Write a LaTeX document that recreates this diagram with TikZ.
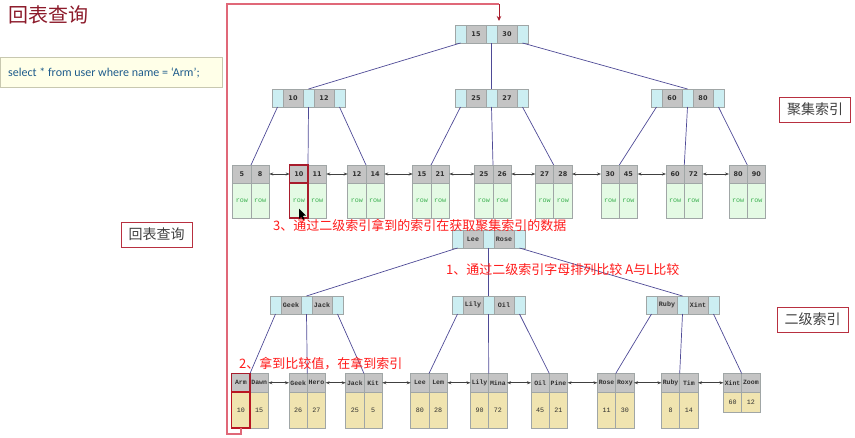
\documentclass[tikz,border=0pt]{standalone}
\usepackage{fontspec}
\setmainfont{Liberation Sans}
\newfontfamily\cjk{Noto Sans CJK SC}
\newfontfamily\monof{Liberation Mono}
\newfontfamily\numf{DejaVu Sans}
\newfontfamily\sqlf{Carlito}
\usetikzlibrary{arrows.meta}
\definecolor{cyanc}{HTML}{CCEEF2}
\definecolor{grayc}{HTML}{C4C4C4}
\definecolor{bordc}{HTML}{A0A6A6}
\definecolor{greenb}{HTML}{E4FAE4}
\definecolor{khaki}{HTML}{F0E4B0}
\definecolor{linkc}{HTML}{4E4A96}
\definecolor{redl}{HTML}{E06878}
\definecolor{darkred}{HTML}{A81C2C}
\definecolor{titlec}{HTML}{8C1A2A}
\definecolor{rowc}{HTML}{3CB050}
\definecolor{sqlc}{HTML}{1F5C8C}
\definecolor{labred}{HTML}{FF1A1A}
\definecolor{labbord}{HTML}{B83040}
\definecolor{labtext}{HTML}{404040}
\definecolor{sqlfill}{HTML}{FFFFE8}
\definecolor{sqlbord}{HTML}{C8C8B0}
\definecolor{txtc}{HTML}{303030}
\tikzset{
  cell/.style={draw=bordc, line width=0.6pt, inner sep=0pt, outer sep=0pt, anchor=north west, text=txtc},
  ptr/.style={cell, fill=cyanc, minimum width=11pt, minimum height=18pt},
  keyn/.style={cell, fill=grayc, minimum width=20pt, minimum height=18pt, font=\numf\bfseries\fontsize{6.5}{7}\selectfont},
  keym/.style={cell, fill=grayc, minimum width=20pt, minimum height=18pt, font=\monof\bfseries\fontsize{6.7}{7}\selectfont},
  lheadn/.style={cell, fill=grayc, minimum width=18.3pt, minimum height=18pt, font=\numf\bfseries\fontsize{6.5}{7}\selectfont},
  lheadm/.style={cell, fill=grayc, minimum width=18.3pt, minimum height=18.5pt, font=\monof\bfseries\fontsize{6.5}{7}\selectfont},
  gbody/.style={cell, fill=greenb, minimum width=18.3pt, minimum height=35pt, text=rowc, font=\monof\fontsize{6.7}{7}\selectfont},
  kbody/.style={cell, fill=khaki, minimum width=18.3pt, font=\monof\fontsize{6.7}{7}\selectfont},
  link/.style={draw=linkc, line width=0.7pt},
  larr/.style={draw=black!75, line width=0.6pt, {Stealth[length=4pt,width=3pt]}-{Stealth[length=4pt,width=3pt]}},
  hl/.style={draw=darkred, line width=1.3pt},
  redpath/.style={draw=redl, line width=1.6pt},
  labbox/.style={draw=labbord, fill=white, line width=0.9pt, minimum width=71pt, minimum height=25pt, inner sep=0pt, text=labtext, font=\cjk\fontsize{14}{16}\selectfont},
  redtxt/.style={text=labred, anchor=west, inner sep=0pt, font=\cjk\fontsize{13}{15}\selectfont}
}
\newcommand\inode[6]{%
  \node[ptr] (#2p1) at (#3,#4) {};
  \node[#1] (#2k1) at (#2p1.north east) {#5};
  \node[ptr] (#2p2) at (#2k1.north east) {};
  \node[#1] (#2k2) at (#2p2.north east) {#6};
  \node[ptr] (#2p3) at (#2k2.north east) {};
}
\newcommand\cleaf[4]{%
  \node[lheadn, anchor=north east] (#1a) at (#2,165) {#3};
  \node[lheadn, anchor=north west] (#1b) at (#2,165) {#4};
  \node[gbody, anchor=north] (#1c) at (#1a.south) {row};
  \node[gbody, anchor=north] (#1d) at (#1b.south) {row};
}
\newcommand\sleaf[7]{%
  \node[lheadm, anchor=north east] (#1a) at (#2,373.5) {#3};
  \node[lheadm, anchor=north west] (#1b) at (#2,373.5) {#4};
  \node[kbody, minimum height=#7pt, anchor=north] (#1c) at (#1a.south) {#5};
  \node[kbody, minimum height=#7pt, anchor=north] (#1d) at (#1b.south) {#6};
}
\begin{document}
\begin{tikzpicture}[x=1pt,y=-1pt]
\useasboundingbox (0,0) rectangle (855,437);
% title and sql
\node[anchor=west, inner sep=0pt, text=titlec, font=\cjk\fontsize{20}{22}\selectfont] (title) at (8,15) {回表查询};
\node[draw=sqlbord, fill=sqlfill, anchor=north west, minimum width=222pt, minimum height=30pt, inner sep=0pt, line width=0.6pt] (sqlbox) at (0,57) {};
\node[anchor=west, inner sep=0pt, text=sqlc, font=\sqlf\fontsize{12}{14}\selectfont] (sql) at (8,72.5) {select * from user where name = ‘Arm’;};
% clustered index internal nodes
\inode{keyn}{r}{455}{25}{15}{30}
\inode{keyn}{a}{272}{89}{10}{12}
\inode{keyn}{b}{455}{89}{25}{27}
\inode{keyn}{c}{651}{89}{60}{80}
% clustered leaves
\cleaf{ca}{251}{5}{8}
\cleaf{cb}{308}{10}{11}
\cleaf{cc}{366}{12}{14}
\cleaf{cd}{431}{15}{21}
\cleaf{ce}{493}{25}{26}
\cleaf{cf}{553.7}{27}{28}
\cleaf{cg}{619.3}{30}{45}
\cleaf{ch}{684.3}{60}{72}
\cleaf{ci}{747.3}{80}{90}
% clustered links
\draw[link] (rp1.south) -- (ap2.north);
\draw[link] (rp2.south) -- (bp2.north);
\draw[link] (rp3.south) -- (cp2.north);
\draw[link] (ap1.south) -- (caa.north east);
\draw[link] (ap2.south) -- (cba.north east);
\draw[link] (ap3.south) -- (cca.north east);
\draw[link] (bp1.south) -- (cda.north east);
\draw[link] (bp2.south) -- (cea.north east);
\draw[link] (bp3.south) -- (cfa.north east);
\draw[link] (cp1.south) -- (cga.north east);
\draw[link] (cp2.south) -- (cha.north east);
\draw[link] (cp3.south) -- (cia.north east);
\foreach \p/\q in {ca/cb,cb/cc,cc/cd,cd/ce,ce/cf,cf/cg,cg/ch,ch/ci}{
  \draw[larr] (\p b.east) -- (\q a.west);
}
% secondary index internal nodes
\inode{keym}{sr}{452}{230}{Lee}{Rose}
\inode{keym}{sa}{270}{296}{Geek}{Jack}
\inode{keym}{sb}{452}{296}{Lily}{Oil}
\inode{keym}{sc}{646}{296}{Ruby}{Xint}
% secondary leaves
\sleaf{sa1}{250}{Arm}{Dawn}{10}{15}{36}
\sleaf{sa2}{307.3}{Geek}{Hero}{26}{27}{36}
\sleaf{sa3}{364}{Jack}{Kit}{25}{5}{36}
\sleaf{sb1}{429}{Lee}{Lem}{80}{28}{36}
\sleaf{sb2}{488.7}{Lily}{Mina}{90}{72}{36}
\sleaf{sb3}{549.3}{Oil}{Pine}{45}{21}{36}
\sleaf{sc1}{615.7}{Rose}{Roxy}{11}{30}{36}
\sleaf{sc2}{679.7}{Ruby}{Tim}{8}{14}{36}
\sleaf{sc3}{741.7}{Xint}{Zoom}{60}{12}{20.5}
% secondary links
\draw[link] (srp1.south) -- (sap2.north);
\draw[link] (srp2.south) -- (sbp2.north);
\draw[link] (srp3.south) -- (scp2.north);
\draw[link] (sap1.south) -- (sa1a.north east);
\draw[link] (sap2.south) -- (sa2a.north east);
\draw[link] (sap3.south) -- (sa3a.north east);
\draw[link] (sbp1.south) -- (sb1a.north east);
\draw[link] (sbp2.south) -- (sb2a.north east);
\draw[link] (sbp3.south) -- (sb3a.north east);
\draw[link] (scp1.south) -- (sc1a.north east);
\draw[link] (scp2.south) -- (sc2a.north east);
\draw[link] (scp3.south) -- (sc3a.north east);
\foreach \p/\q in {sa1/sa2,sa2/sa3,sa3/sb1,sb1/sb2,sb2/sb3,sb3/sc1,sc1/sc2,sc2/sc3}{
  \draw[larr] (\p b.east) -- (\q a.west);
}
% highlights
\draw[hl] (cba.north west) rectangle (cba.south east);
\draw[hl] (cbc.north west) rectangle (cbc.south east);
\draw[hl] (sa1a.north west) rectangle (sa1a.south east);
\draw[hl, draw=darkred!80!red] (sa1c.north west) rectangle (sa1c.south east);
% cursor
\fill[black] (299,208.5) -- (299,219) -- (301.3,216.6) -- (303.2,220.2) -- (304.6,219.4) -- (302.8,215.8) -- (306,215.6) -- cycle;
% red return path
\coordinate (rb) at (227,434);
\coordinate (rt) at (227,4);
\coordinate (rr) at (499,4);
\coordinate (rin) at (499,21);
\draw[redpath] (sa1c.south) |- (rb) -- (rt) -- (rr);
\draw[darkred, line width=0.9pt, -{Stealth[length=5pt,width=4.5pt]}] (rr) -- (rin);
% label boxes
\node[labbox] (lab1) at (815,109.5) {聚集索引};
\node[labbox] (lab2) at (812.5,319.5) {二级索引};
\node[labbox] (lab3) at (156.5,234.5) {回表查询};
% red notes
\node[redtxt] (note3) at (273,225) {3、通过二级索引拿到的索引在获取聚集索引的数据};
\node[redtxt] (note1) at (446,270) {1、通过二级索引字母排列比较 A与L比较};
\node[redtxt] (note2) at (239,364) {2、拿到比较值，在拿到索引};
\end{tikzpicture}
\end{document}
